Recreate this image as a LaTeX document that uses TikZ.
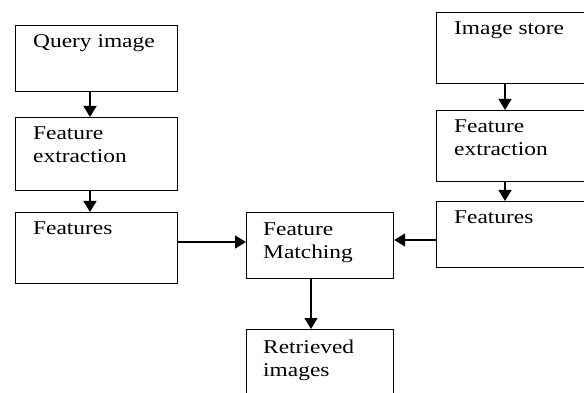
\documentclass[tikz,border=0pt]{standalone}
\usepackage{fontspec}
\setmainfont{Liberation Serif}[FakeStretch=1.2]
\usetikzlibrary{arrows.meta,calc}
\begin{document}
\begin{tikzpicture}[x=1pt,y=-1pt,
  box/.style={draw,line width=1.2pt,inner sep=0pt,anchor=north west},
  txt/.style={anchor=base west,inner sep=0pt,align=left,font=\fontsize{19.5}{23}\selectfont},
  arr/.style={line width=1.4pt,-{Triangle[length=11pt,width=13pt]}}]
\useasboundingbox (0,0) rectangle (584,393);
% left column
\node[box,minimum width=162pt,minimum height=66pt] (qi) at (15,25) {};
\node[box,minimum width=162pt,minimum height=73pt] (fe1) at (15,117) {};
\node[box,minimum width=162pt,minimum height=71pt] (f1) at (15,212) {};
% right column
\node[box,minimum width=170pt,minimum height=71pt] (is) at (436,12) {};
\node[box,minimum width=170pt,minimum height=71pt] (fe2) at (436,110) {};
\node[box,minimum width=170pt,minimum height=66pt] (f2) at (436,201) {};
% middle
\node[box,minimum width=147pt,minimum height=66pt] (fm) at (246,212) {};
\node[box,minimum width=147pt,minimum height=80pt] (ri) at (246,329) {};
% texts (base anchor = last line)
\node[txt] (qit) at ($(qi.north west)+(18,23)$) {Query image};
\node[txt] (fe1t) at ($(fe1.north west)+(18,46)$) {Feature\\extraction};
\node[txt] (f1t) at ($(f1.north west)+(18,22)$) {Features};
\node[txt] (ist) at ($(is.north west)+(18,23)$) {Image store};
\node[txt] (fe2t) at ($(fe2.north west)+(18,46)$) {Feature\\extraction};
\node[txt] (f2t) at ($(f2.north west)+(18,22)$) {Features};
\node[txt] (fmt) at ($(fm.north west)+(17,46)$) {Feature\\Matching};
\node[txt] (rit) at ($(ri.north west)+(17,47)$) {Retrieved\\images};
% arrows
\draw[arr] ($(qi.south west)+(75,0)$) -- ($(fe1.north west)+(75,0)$);
\draw[arr] ($(fe1.south west)+(75,0)$) -- ($(f1.north west)+(75,0)$);
\draw[arr] ($(is.south west)+(69,0)$) -- ($(fe2.north west)+(69,0)$);
\draw[arr] ($(fe2.south west)+(69,0)$) -- ($(f2.north west)+(69,0)$);
\draw[arr] ($(f1.north east)+(0,30)$) -- ($(fm.north west)+(0,30)$);
\draw[arr] ($(f2.north west)+(0,39)$) -- ($(fm.north east)+(0,28)$);
\draw[arr] ($(fm.south west)+(65,0)$) -- ($(ri.north west)+(65,0)$);
\end{tikzpicture}
\end{document}
